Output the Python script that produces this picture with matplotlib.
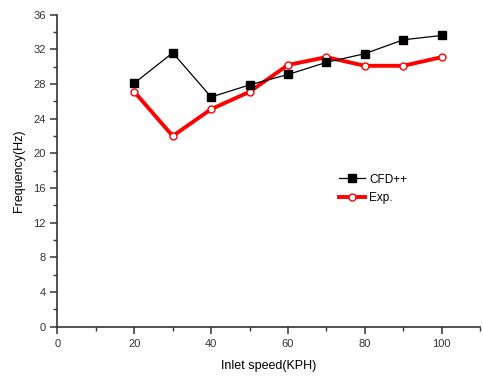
import matplotlib.pyplot as plt
from matplotlib.ticker import MultipleLocator, FixedLocator

plt.rcParams['font.family'] = ['Liberation Sans', 'DejaVu Sans']

speed = [20, 30, 40, 50, 60, 70, 80, 90, 100]
cfd = [28.1, 31.6, 26.5, 27.9, 29.1, 30.5, 31.5, 33.1, 33.6]
exp = [27.1, 22.0, 25.1, 27.1, 30.2, 31.1, 30.1, 30.1, 31.1]

fig = plt.figure(figsize=(4.83, 3.76), dpi=100)
ax = fig.add_axes([0.119, 0.131, 0.875, 0.830])

ax.plot(speed, cfd, color='black', lw=0.9, marker='s', ms=5.5,
        mfc='black', mec='black', label='CFD++', zorder=3)
ax.plot(speed, exp, color='red', lw=2.8, marker='o', ms=5,
        mfc='white', mec='red', mew=1.0, label='Exp.', zorder=2)

ax.set_xlim(0, 110)
ax.set_ylim(0, 36)
ax.xaxis.set_major_locator(FixedLocator([0, 20, 40, 60, 80, 100]))
ax.xaxis.set_minor_locator(MultipleLocator(10))
ax.yaxis.set_major_locator(MultipleLocator(4))
ax.yaxis.set_minor_locator(MultipleLocator(2))

for s in ['top', 'right']:
    ax.spines[s].set_visible(False)
for s in ['left', 'bottom']:
    ax.spines[s].set_color('#333333')
    ax.spines[s].set_linewidth(1.2)

ax.tick_params(which='major', length=5, width=1.1, color='#333333',
               labelsize=8, labelcolor='#333333')
ax.tick_params(which='minor', length=3, width=1.0, color='#333333')

ax.set_xlabel('Inlet speed(KPH)', fontsize=9, labelpad=8)
ax.set_ylabel('Frequency(Hz)', fontsize=9, labelpad=6)

ax.legend(loc='upper left', bbox_to_anchor=(0.64, 0.525), frameon=False,
          fontsize=8.5, handlelength=2.2, labelspacing=0.55, handletextpad=0.4)

fig.savefig('out.png', dpi=100)
